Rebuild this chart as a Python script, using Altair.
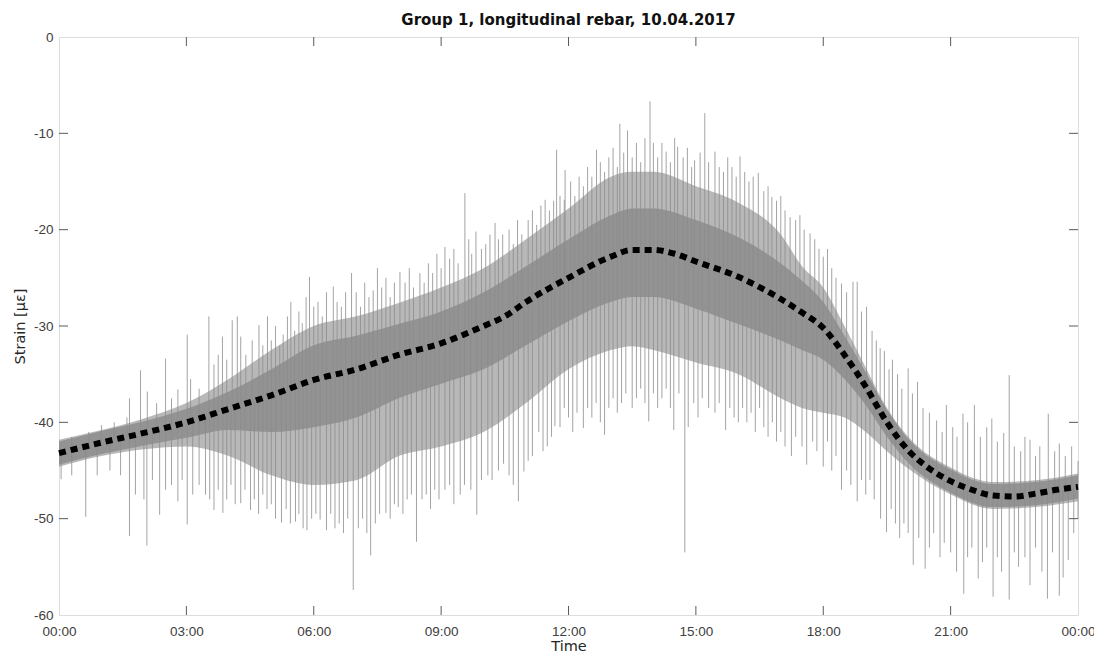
import altair as alt
import pandas as pd
import numpy as np

# ---- smoothed trend (black dashed line) ----
trend_t = [0, 1, 2, 3, 4, 5, 6, 7, 8, 9, 10, 10.5, 11, 12, 13, 13.5, 14, 14.5, 15, 16,
           17, 17.5, 18, 18.5, 19, 19.5, 20, 20.5, 21, 21.5, 22, 22.5, 23, 23.5, 24]
trend_v = [-43.2, -42.1, -41.1, -40.0, -38.6, -37.2, -35.6, -34.5, -33.0, -31.8, -30.0, -29.0,
           -27.5, -25.0, -22.8, -22.1, -22.1, -22.5, -23.3, -24.9, -27.2, -28.6, -30.2, -33.0,
           -36.3, -40.0, -42.9, -44.8, -46.1, -47.0, -47.6, -47.7, -47.4, -47.0, -46.7]

# ---- envelope of the raw signal: outer (sparser) and inner (dense) ----
band_t = [0, 1, 2, 3, 4, 5, 6, 7, 8, 9, 10, 11, 12, 13, 13.5, 14, 15, 16, 17, 17.5,
          18, 18.5, 19, 19.5, 20, 21, 22, 23, 24]
band_hi = [-41.8, -40.8, -39.6, -38.0, -35.5, -32.5, -30.0, -29.0, -27.6, -26.0, -24.0, -21.0,
           -17.8, -14.5, -14.0, -14.0, -15.5, -17.2, -20.5, -23.8, -26.0, -30.0, -34.3, -38.5,
           -41.5, -44.7, -46.2, -46.0, -45.3]
band_lo = [-44.6, -43.5, -42.8, -42.5, -43.5, -45.5, -46.5, -46.0, -43.5, -42.5, -41.0, -38.0,
           -34.5, -32.5, -32.1, -32.5, -33.8, -35.0, -37.5, -38.5, -39.0, -39.5, -41.0, -43.0,
           -44.8, -47.5, -49.0, -48.8, -48.2]
core_hi = [-42.0, -40.9, -39.9, -38.6, -36.8, -34.5, -32.0, -31.0, -29.8, -28.5, -26.5, -23.8,
           -21.0, -18.5, -17.8, -17.8, -19.0, -20.8, -23.5, -25.3, -27.5, -31.0, -34.8, -38.7,
           -41.7, -44.9, -46.4, -46.2, -45.5]
core_lo = [-44.4, -43.3, -42.4, -41.6, -40.8, -41.0, -40.5, -39.5, -37.5, -36.0, -34.5, -32.0,
           -29.5, -27.5, -27.0, -27.0, -28.2, -29.8, -31.5, -32.5, -33.5, -35.5, -38.2, -41.5,
           -44.2, -47.3, -48.8, -48.6, -47.9]

# ---- upward spikes of the raw signal (time [h], tip value) ----
up_t = [0.3, 0.7, 1.0, 1.3, 1.6, 1.66, 1.92, 2.08, 2.3, 2.51, 2.65, 2.8, 3.02, 3.1, 3.3, 3.53,
        3.65, 3.75, 3.85, 3.95, 4.08, 4.2, 4.28, 4.4, 4.55, 4.71, 4.8, 4.91, 5.0, 5.1, 5.2, 5.28,
        5.38, 5.46, 5.55, 5.65, 5.73, 5.82, 5.9, 6.0, 6.1, 6.2, 6.3, 6.46, 6.55, 6.65, 6.75, 6.89,
        7.0, 7.1, 7.2, 7.3, 7.4, 7.5, 7.6, 7.7, 7.8, 7.9, 8.03, 8.15, 8.25, 8.35, 8.5, 8.6, 8.7,
        8.8, 8.9, 9.0, 9.09, 9.2, 9.3, 9.4, 9.56, 9.65, 9.72, 9.82, 9.95, 10.05, 10.15, 10.27,
        10.35, 10.45, 10.6, 10.7, 10.8, 10.9, 11.05, 11.15, 11.25, 11.35, 11.45, 11.55, 11.65,
        11.72, 11.8, 11.9, 11.92, 12.05, 12.15, 12.25, 12.35, 12.45, 12.55, 12.66, 12.75, 12.85,
        12.95, 13.05, 13.15, 13.21, 13.3, 13.39, 13.5, 13.6, 13.7, 13.8, 13.92, 14.0, 14.1, 14.2,
        14.3, 14.4, 14.5, 14.57, 14.7, 14.8, 14.9, 14.97, 15.1, 15.21, 15.3, 15.45, 15.55, 15.65,
        15.75, 15.85, 15.95, 16.04, 16.15, 16.25, 16.35, 16.47, 16.6, 16.7, 16.79, 16.9, 17.0,
        17.1, 17.22, 17.35, 17.45, 17.55, 17.69, 17.8, 17.9, 18.0, 18.1, 18.2, 18.3, 18.43, 18.55,
        18.7, 18.8, 18.9, 19.02, 19.15, 19.25, 19.34, 19.44, 19.55, 19.63, 19.75, 19.85, 20.0,
        20.1, 20.22, 20.35, 20.5, 20.67, 20.8, 20.9, 21.05, 21.15, 21.29, 21.4, 21.56, 21.7,
        21.85, 21.97, 22.1, 22.25, 22.38, 22.5, 22.65, 22.75, 22.87, 23.0, 23.1, 23.3, 23.45,
        23.56, 23.7, 23.85, 24.0]
up_v = [-41.5, -41.0, -40.3, -40.0, -39.5, -37.5, -34.6, -36.8, -38.0, -33.4, -37.5, -36.6,
        -30.9, -35.5, -36.5, -29.0, -34.0, -33.0, -31.1, -33.5, -29.4, -29.0, -31.1, -33.0,
        -31.5, -29.9, -32.0, -29.0, -31.5, -30.0, -32.0, -30.9, -29.0, -27.5, -30.5, -28.5,
        -29.7, -27.0, -24.9, -28.0, -27.5, -29.0, -26.5, -25.9, -27.5, -28.0, -26.5, -24.5,
        -26.5, -28.0, -25.5, -27.0, -26.3, -24.0, -26.0, -25.0, -27.0, -25.5, -24.4, -25.5,
        -24.0, -26.0, -24.5, -25.5, -23.5, -24.5, -22.5, -24.0, -21.8, -23.0, -22.0, -23.5,
        -16.2, -21.0, -22.5, -20.2, -22.0, -21.5, -20.5, -19.3, -21.0, -20.5, -20.0, -21.5,
        -19.0, -20.5, -19.0, -18.0, -19.5, -17.5, -16.9, -18.0, -17.0, -11.7, -16.5, -16.9,
        -13.8, -15.0, -16.5, -14.5, -15.5, -13.5, -14.5, -11.7, -13.0, -14.0, -12.5, -11.5,
        -13.5, -9.0, -12.0, -9.7, -12.5, -11.0, -13.0, -10.5, -6.7, -11.0, -12.5, -11.0, -11.9,
        -13.0, -10.5, -11.4, -12.5, -11.5, -13.5, -12.8, -12.0, -7.9, -13.0, -11.9, -13.5,
        -14.0, -12.5, -13.5, -14.5, -12.4, -14.0, -15.0, -14.5, -14.1, -16.0, -15.5, -16.6,
        -17.0, -16.5, -18.0, -18.7, -19.0, -18.5, -20.0, -20.4, -21.0, -22.0, -22.8, -22.0,
        -24.0, -25.0, -25.6, -26.5, -25.4, -25.4, -28.5, -28.0, -30.5, -31.5, -32.3, -32.6,
        -34.5, -33.5, -35.0, -36.5, -34.4, -37.0, -35.8, -38.5, -39.0, -39.8, -41.0, -38.2,
        -40.5, -41.5, -39.1, -40.0, -38.2, -41.5, -40.5, -39.6, -42.0, -41.1, -35.1, -42.5,
        -43.0, -41.5, -41.8, -43.5, -42.5, -39.1, -43.0, -42.2, -43.5, -42.5, -44.0]

# ---- downward spikes of the raw signal (time [h], tip value) ----
dn_t = [0.05, 0.3, 0.63, 0.9, 1.2, 1.45, 1.66, 1.8, 2.0, 2.07, 2.2, 2.37, 2.51, 2.65, 2.8, 2.9,
        3.02, 3.15, 3.3, 3.45, 3.55, 3.65, 3.75, 3.86, 3.95, 4.05, 4.15, 4.28, 4.38, 4.51, 4.6,
        4.7, 4.8, 4.9, 5.0, 5.1, 5.24, 5.35, 5.45, 5.57, 5.65, 5.75, 5.84, 5.95, 6.05, 6.15, 6.3,
        6.4, 6.5, 6.6, 6.7, 6.8, 6.93, 7.05, 7.15, 7.25, 7.34, 7.45, 7.55, 7.7, 7.8, 7.9, 7.99,
        8.1, 8.2, 8.3, 8.42, 8.55, 8.65, 8.75, 8.85, 8.95, 9.09, 9.2, 9.3, 9.45, 9.55, 9.7, 9.84,
        9.95, 10.1, 10.2, 10.35, 10.47, 10.6, 10.7, 10.82, 10.95, 11.05, 11.15, 11.3, 11.4, 11.5,
        11.6, 11.68, 11.8, 11.9, 12.0, 12.1, 12.2, 12.35, 12.45, 12.55, 12.65, 12.75, 12.85,
        12.95, 13.05, 13.15, 13.25, 13.35, 13.5, 13.6, 13.7, 13.8, 13.89, 14.0, 14.1, 14.2, 14.3,
        14.4, 14.48, 14.6, 14.74, 14.82, 14.95, 15.05, 15.15, 15.3, 15.45, 15.55, 15.7, 15.8,
        15.9, 16.0, 16.1, 16.2, 16.3, 16.4, 16.5, 16.6, 16.7, 16.8, 16.9, 17.0, 17.1, 17.25,
        17.35, 17.5, 17.61, 17.75, 17.85, 18.0, 18.1, 18.2, 18.3, 18.43, 18.55, 18.65, 18.8,
        18.9, 19.0, 19.1, 19.2, 19.35, 19.49, 19.6, 19.7, 19.8, 19.9, 20.0, 20.12, 20.25, 20.4,
        20.5, 20.6, 20.75, 20.85, 21.0, 21.14, 21.31, 21.4, 21.5, 21.65, 21.75, 21.85, 22.0,
        22.1, 22.2, 22.38, 22.5, 22.6, 22.75, 22.87, 23.0, 23.15, 23.28, 23.4, 23.56, 23.65,
        23.77, 23.9, 24.0]
dn_v = [-45.9, -45.5, -49.8, -45.5, -45.0, -45.5, -51.8, -47.5, -48.0, -52.8, -46.0, -49.6,
        -47.0, -46.5, -48.2, -46.0, -50.6, -47.5, -46.5, -47.5, -48.0, -49.1, -47.0, -49.4,
        -48.0, -46.5, -48.5, -48.4, -47.0, -49.1, -48.0, -49.5, -47.5, -49.0, -48.5, -50.0,
        -50.4, -49.0, -50.5, -50.3, -49.5, -51.0, -51.2, -50.0, -49.5, -50.1, -51.2, -49.5,
        -51.0, -50.5, -51.5, -50.0, -57.4, -51.0, -50.0, -51.5, -53.8, -50.5, -49.5, -49.4,
        -50.0, -48.5, -48.8, -49.5, -48.0, -47.5, -52.4, -48.0, -47.5, -49.0, -47.0, -48.0,
        -47.0, -46.5, -48.5, -47.5, -46.5, -47.0, -49.6, -46.0, -45.5, -46.0, -45.0, -44.3,
        -45.5, -46.5, -48.2, -45.1, -44.0, -43.5, -41.0, -43.0, -42.5, -41.5, -40.4, -40.5,
        -38.5, -39.5, -41.0, -39.0, -40.6, -38.5, -39.5, -38.0, -40.0, -41.3, -38.5, -37.5,
        -39.0, -38.0, -37.0, -38.5, -37.5, -36.5, -38.0, -39.9, -37.0, -38.5, -37.5, -36.5,
        -38.5, -40.8, -37.0, -53.5, -40.5, -38.0, -39.5, -37.5, -38.5, -39.0, -38.0, -40.8,
        -38.5, -39.5, -40.0, -38.5, -40.0, -39.0, -41.0, -38.5, -40.5, -41.5, -40.0, -42.0,
        -41.0, -42.5, -43.5, -41.5, -42.5, -44.4, -42.0, -43.0, -44.6, -42.0, -45.0, -43.5,
        -47.0, -45.0, -46.5, -48.2, -46.0, -47.5, -46.0, -48.0, -50.0, -51.4, -49.0, -50.5,
        -52.0, -50.5, -51.5, -54.8, -52.0, -55.2, -53.0, -51.5, -54.0, -52.5, -53.5, -55.5,
        -57.8, -54.0, -53.0, -56.2, -54.5, -53.0, -58.1, -54.0, -55.5, -58.4, -53.5, -55.0,
        -54.0, -56.9, -53.0, -55.5, -58.3, -53.5, -58.0, -56.1, -54.3, -51.5, -50.0]

x_ticks = [0, 3, 6, 9, 12, 15, 18, 21, 24]
y_ticks = [-60, -50, -40, -30, -20, -10, 0]

W, H = 1019, 578
FONT = "Liberation Sans"
TFONT = "DejaVu Sans"

trend_df = pd.DataFrame({"t": trend_t, "v": trend_v})
band_df = pd.DataFrame({"t": band_t, "hi": band_hi, "lo": band_lo,
                        "chi": core_hi, "clo": core_lo})
spk_t = up_t + dn_t
spk_v = up_v + dn_v
spk_df = pd.DataFrame({"t": spk_t, "tip": spk_v,
                       "base": np.interp(spk_t, trend_t, trend_v)})

xs = alt.Scale(domain=[0, 24], nice=False, zero=False)
ys = alt.Scale(domain=[-60, 0], nice=False, zero=False)

x_axis = alt.Axis(values=x_ticks, grid=False, ticks=False, domain=False,
                  labelExpr="(datum.value % 24 < 10 ? '0' : '') + (datum.value % 24) + ':00'",
                  labelPadding=9, labelFontSize=13.5, labelColor="#404040", labelFont=FONT,
                  title="Time", titleFont=TFONT, titleFontSize=14.5, titleFontWeight="normal",
                  titleColor="#262626", titlePadding=2, labelFlush=False)
y_axis = alt.Axis(values=y_ticks, grid=False, ticks=False, domain=False,
                  labelExpr="datum.value + ''", labelPadding=6, labelFontSize=13.5,
                  labelColor="#404040", labelFont=FONT,
                  title="Strain [με]", titleFont=TFONT, titleFontSize=14.5,
                  titleFontWeight="normal", titleColor="#262626", titlePadding=6)


def X(field):
    return alt.X(field, type="quantitative", scale=xs, axis=x_axis)


def Y(field):
    return alt.Y(field, type="quantitative", scale=ys, axis=y_axis)


outer = alt.Chart(band_df).mark_area(color="#9a9a9a", opacity=0.7,
                                     interpolate="monotone").encode(
    x=X("t"), y=Y("hi"), y2="lo")

core = alt.Chart(band_df).mark_area(color="#8a8a8a", opacity=0.8,
                                    interpolate="monotone").encode(
    x=X("t"), y=Y("chi"), y2="clo")

spikes = alt.Chart(spk_df).mark_rule(color="#8c8c8c", strokeWidth=0.8).encode(
    x=X("t"), y=Y("tip"), y2="base")

line = alt.Chart(trend_df).mark_line(color="black", strokeWidth=6, strokeDash=[7, 5],
                                     interpolate="monotone").encode(
    x=X("t"), y=Y("v"))

xt_df = pd.DataFrame({"t": x_ticks[1:-1]})
yt_df = pd.DataFrame({"v": y_ticks[1:-1]})
TICK = "#5a5a5a"
tick_b = alt.Chart(xt_df).mark_rule(color=TICK, strokeWidth=1).encode(
    x=X("t"), y=alt.value(H), y2=alt.value(H - 9))
tick_t = alt.Chart(xt_df).mark_rule(color=TICK, strokeWidth=1).encode(
    x=X("t"), y=alt.value(0), y2=alt.value(9))
tick_l = alt.Chart(yt_df).mark_rule(color=TICK, strokeWidth=1).encode(
    y=Y("v"), x=alt.value(0), x2=alt.value(9))
tick_r = alt.Chart(yt_df).mark_rule(color=TICK, strokeWidth=1).encode(
    y=Y("v"), x=alt.value(W), x2=alt.value(W - 9))

chart = alt.layer(outer, core, spikes, line, tick_b, tick_t, tick_l, tick_r).properties(
    width=W, height=H,
    title=alt.TitleParams("Group 1, longitudinal rebar, 10.04.2017", font=TFONT,
                          fontSize=15, fontWeight="bold", color="#111111", anchor="middle",
                          offset=2),
    padding={"left": 51, "top": 29, "right": 16, "bottom": 46},
    autosize=alt.AutoSizeParams(type="none"),
).configure_view(stroke="#8f8f8f", strokeWidth=1).configure(background="white")

chart.save("out.html", embed_options={"renderer": "svg", "actions": False})
